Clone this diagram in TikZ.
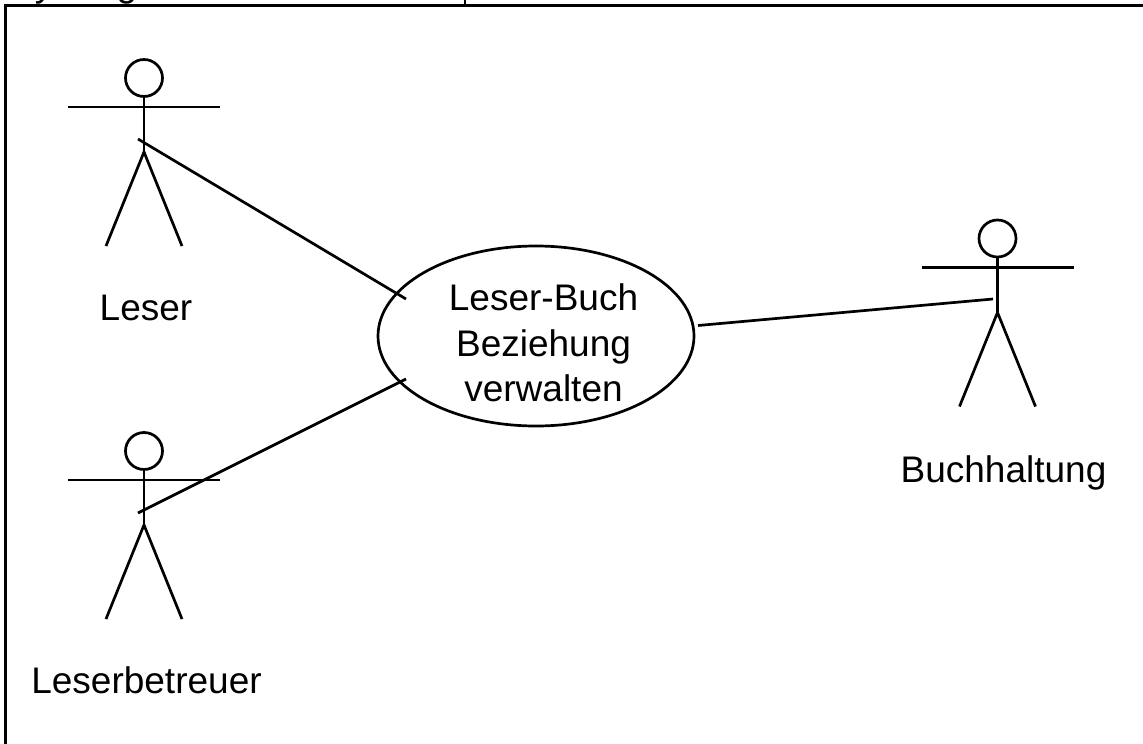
\documentclass[tikz,border=0pt]{standalone}
\usepackage{fontspec}
\setmainfont{Liberation Sans}
\usetikzlibrary{shapes.geometric}
\tikzset{
  px/.style={x=1pt,y=-1pt},
  stroke/.style={draw=black,line width=2.7pt},
  frameline/.style={draw=black,line width=3pt},
  headcircle/.style={circle,draw=black,line width=2.7pt,minimum size=37pt,inner sep=0pt,fill=white},
  usecase/.style={ellipse,draw=black,line width=2.7pt,minimum width=316pt,minimum height=180pt,inner sep=0pt},
  usetext/.style={inner sep=0pt,align=center,font=\fontsize{37}{45.5}\selectfont},
  label/.style={font=\fontsize{37}{44}\selectfont,inner sep=0pt,anchor=base},
  cut/.style={font=\fontsize{37}{44}\selectfont,inner sep=0pt,anchor=base}
}
\newcommand{\stickman}[3]{%
  % name, head centre x, head centre y
  \node[headcircle] (#1head) at (#2,#3) {};
  \coordinate (#1l) at (#2-76,#3+29);
  \coordinate (#1r) at (#2+76,#3+29);
  \coordinate (#1hip) at (#2,#3+74);
  \coordinate (#1fl) at (#2-38,#3+168);
  \coordinate (#1fr) at (#2+38,#3+168);
  \draw[stroke] (#1head.south) -- (#1hip);
  \draw[stroke] (#1l) -- (#1r);
  \draw[stroke] (#1fl) -- (#1hip) -- (#1fr);
}
\begin{document}
\begin{tikzpicture}[px]
\useasboundingbox (0,0) rectangle (1143,744);
\fill[white] (0,0) rectangle (1143,744);
\begin{scope}
\clip (0,0) rectangle (1143,5);
\node[cut] (cuty) at (44,-3) {y};
\node[cut] (cutg) at (127,-3) {g};
\end{scope}
\coordinate (frametl) at (5.5,5.5);
\coordinate (frametr) at (1143,5.5);
\coordinate (framebl) at (5.5,744);
\coordinate (ticktop) at (465,0);
\coordinate (tickbot) at (465,5.5);
\draw[frameline] (framebl) -- (frametl) -- (frametr);
\draw[draw=black,line width=1.4pt] (ticktop) -- (tickbot);

\stickman{a}{144}{78}
\stickman{b}{144}{451}
\stickman{c}{997.5}{238.5}

\node[usecase] (uc) at (536,336) {};
\node[usetext] (uctext) at (543.5,343) {Leser-Buch\\Beziehung\\verwalten};

\coordinate (a1) at (138,139);
\coordinate (a2) at (406,299);
\coordinate (b1) at (138,513);
\coordinate (b2) at (406,379);
\coordinate (c1) at (993,299);
\coordinate (c2) at (698,325.5);
\draw[stroke] (a1) -- (a2);
\draw[stroke] (b1) -- (b2);
\draw[stroke] (c2) -- (c1);

\node[label] (leser) at (146,320) {Leser};
\node[label] (betreuer) at (146.5,693) {Leserbetreuer};
\node[label] (buch) at (1003.5,482) {Buchhaltung};
\end{tikzpicture}
\end{document}
